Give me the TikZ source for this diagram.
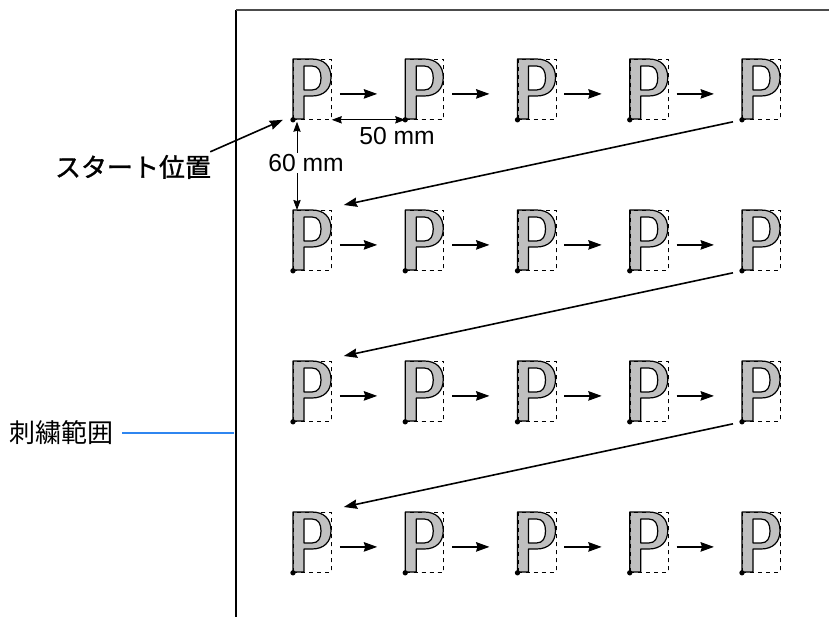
\documentclass[tikz,border=0pt]{standalone}
\usepackage{fontspec}
\setmainfont{Noto Sans CJK JP}
\newfontfamily\latinfont{Liberation Sans}
\newfontfamily\jboldfont[FakeBold=1.2]{Noto Sans CJK JP}
\usepackage{tikz}
\usetikzlibrary{arrows.meta,positioning,calc}
\definecolor{pfill}{HTML}{C0C0C0}
\definecolor{lblue}{HTML}{2F86F0}

\begin{document}
\begin{tikzpicture}[x=0.75pt,y=-0.75pt,
    pbox/.style={draw,dashed,line width=0.6pt,anchor=north west,inner sep=0pt,
                 minimum width=28.5pt,minimum height=45pt},
    letterp/.pic={
      \fill[pfill,even odd rule] (0,0) -- (19,0) .. controls (31,0) and (38,7) .. (38,18.5)
        .. controls (38,30) and (31,37) .. (19,37) -- (11,37) -- (11,60) -- (0,60) -- cycle
        (11,7) -- (19,7) .. controls (25.5,7) and (28,12) .. (28,19)
        .. controls (28,26) and (25.5,31) .. (19,31) -- (11,31) -- cycle;
      \draw[line width=0.9pt,line join=round] (0,0) -- (19,0) .. controls (31,0) and (38,7) .. (38,18.5)
        .. controls (38,30) and (31,37) .. (19,37) -- (11,37) -- (11,60) -- (0,60) -- cycle
        (11,7) -- (19,7) .. controls (25.5,7) and (28,12) .. (28,19)
        .. controls (28,26) and (25.5,31) .. (19,31) -- (11,31) -- cycle;
    },
    nextarr/.style={-{Stealth[length=10pt,width=7pt,inset=1pt]},line width=1.5pt},
    jumparr/.style={-{Stealth[length=10pt,width=7pt,inset=1pt]},line width=1.2pt},
    dimarr/.style={{Stealth[length=7.5pt,width=5.5pt,inset=0.8pt]}-{Stealth[length=7.5pt,width=5.5pt,inset=0.8pt]},line width=0.6pt},
    lbl/.style={font=\latinfont\fontsize{18.5pt}{21pt}\selectfont,inner sep=1pt},
    jlbl/.style={font=\fontsize{19.5pt}{22pt}\selectfont,inner sep=0pt}]
  \useasboundingbox (0,0) rectangle (829,617);

  % frame of the embroidery area
  \coordinate (ftop) at (236,10);
  \coordinate (fright) at (829,10);
  \coordinate (fbot) at (236,617);
  \draw[line width=1pt] (fbot) -- (ftop);
  \draw[line width=1pt,black!70] (ftop) -- (fright);

  % letters
  \foreach \r in {1,...,4}
    \foreach \c in {1,...,5} {
      \node[pbox] (p\r\c) at ({293+112.25*(\c-1)},{59+151*(\r-1)}) {};
      \pic at (p\r\c.north west) {letterp};
      \node[pbox] at (p\r\c.north west) {};
      \fill (p\r\c.south west) circle (2pt);
    }

  % order of stitching
  \foreach \r in {1,...,4}
    \foreach \c/\n in {1/2,2/3,3/4,4/5}
      \draw[nextarr] ($(p\r\c.east)+(8,4.5)$) -- ($(p\r\n.west)+(-28,4.5)$);
  \foreach \r/\n in {1/2,2/3,3/4}
    \draw[jumparr] ($(p\r5.south west)+(-9,2)$) -- ($(p\n1.north east)+(12,-5)$);

  % dimensions
  \draw[dimarr] (p11.south east) -- (p12.south west);
  \node[lbl] (d50) at (397,136) {50 mm};
  \draw[dimarr] ($(p11.south west)+(4,2)$) -- ($(p21.north west)+(4,0)$);
  \node[lbl,fill=white] (d60) at (306,163) {60 mm};

  % labels
  \node[jlbl,font=\jboldfont\fontsize{19.5pt}{22pt}\selectfont] (start) at (133,167) {スタート位置};
  \draw[jumparr] ($(start.north east)+(-1,-3)$) -- ($(p11.south west)+(-10,0)$);
  \node[jlbl] (area) at (62,433) {刺繍範囲};
  \draw[lblue,line width=0.9pt] ($(area.east)+(8,0)$) -- ($(area.east -| ftop)+(-2,0)$);
\end{tikzpicture}
\end{document}
